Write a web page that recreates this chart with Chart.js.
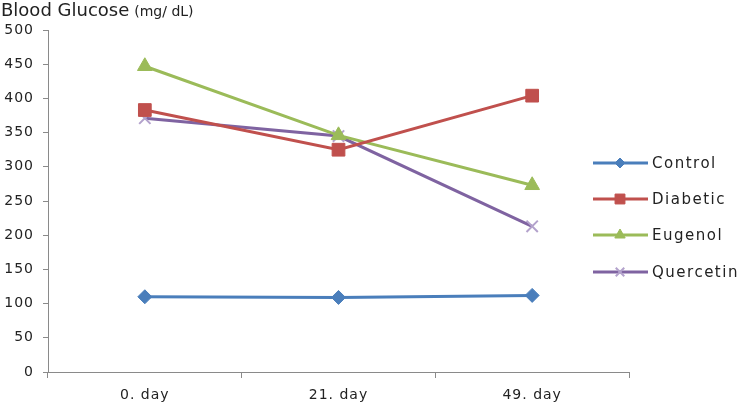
<!DOCTYPE html>
<html>
<head>
<meta charset="utf-8">
<script src="https://cdn.jsdelivr.net/npm/chart.js@4/dist/chart.umd.min.js"></script>
<style>
  html, body { margin: 0; padding: 0; background: #fff; }
  #wrap { width: 749px; height: 402px; position: relative; }
</style>
</head>
<body>
<div id="wrap"><canvas id="c" width="749" height="402"></canvas></div>
<script>
// --- データ ---
const days      = ['0. day', '21. day', '49. day'];
const control   = [110, 109, 112];
const diabetic  = [383, 325, 404];
const eugenol   = [447, 346, 273];
const quercetin = [371, 345, 213];

const FONT = '"DejaVu Sans", Verdana, sans-serif';
const axisColor = '#8a8a8a';

const mkSet = (label, data, color, pointStyle, radius, legendRadius, extra = {}) => ({
    label, data, legendRadius,
    borderColor: color,
    backgroundColor: color,
    borderWidth: 3,
    pointStyle,
    pointRadius: radius,
    pointBorderColor: color,
    pointBackgroundColor: color,
    pointBorderWidth: 1,
    tension: 0,
    ...extra
});

const datasets = [
    mkSet('Control',   control,   '#4a7ebb', 'rectRot',  7, 5),
    mkSet('Diabetic',  diabetic,  '#c0504d', 'rect',     9, 7),
    mkSet('Eugenol',   eugenol,   '#9bbb59', 'triangle', 8.5, 6),
    mkSet('Quercetin', quercetin, '#7f63a1', 'crossRot', 8, 6,
          { pointBorderColor: '#b3a2cc', pointBorderWidth: 2 })
];

// 文字間隔 (元画像は横に広い)
const spacingPlugin = {
    id: 'spacing',
    beforeDraw(chart) { chart.ctx.letterSpacing = '1px'; },
    afterDatasetsDraw(chart) { chart.ctx.letterSpacing = '0px'; }
};

// タイトル & 凡例 (独自描画)
const decorPlugin = {
    id: 'decor',
    afterDraw(chart) {
        const ctx = chart.ctx;
        ctx.save();
        ctx.letterSpacing = '0px';
        ctx.textBaseline = 'alphabetic';
        ctx.fillStyle = '#222';
        ctx.font = '18px ' + FONT;
        ctx.fillText('Blood Glucose', 1, 16);
        const w = ctx.measureText('Blood Glucose').width;
        ctx.font = '14px ' + FONT;
        ctx.fillText('(mg/ dL)', 1 + w + 5, 16);

        // 凡例
        const rows = [163, 199, 235, 272];
        chart.data.datasets.forEach((ds, i) => {
            const y = rows[i];
            ctx.strokeStyle = ds.borderColor;
            ctx.lineWidth = 3;
            ctx.beginPath();
            ctx.moveTo(593, y);
            ctx.lineTo(648, y);
            ctx.stroke();
            ctx.fillStyle = ds.pointBackgroundColor;
            ctx.strokeStyle = ds.pointBorderColor;
            ctx.lineWidth = ds.pointBorderWidth;
            Chart.helpers.drawPoint(ctx, {
                pointStyle: ds.pointStyle,
                radius: ds.legendRadius,
                rotation: 0,
                borderWidth: ds.pointBorderWidth
            }, 620, y);
            ctx.fillStyle = '#222';
            ctx.font = '15px ' + FONT;
            ctx.letterSpacing = '1.5px';
            ctx.textBaseline = 'middle';
            ctx.fillText(ds.label, 652, y + 1);
            ctx.letterSpacing = '0px';
        });
        ctx.restore();
    }
};

new Chart(document.getElementById('c').getContext('2d'), {
    type: 'line',
    data: { labels: days, datasets },
    plugins: [spacingPlugin, decorPlugin],
    options: {
        responsive: false,
        animation: false,
        layout: { padding: { top: 30, right: 120, left: 0, bottom: 0 } },
        plugins: {
            legend:  { display: false },
            tooltip: { enabled: false }
        },
        scales: {
            x: {
                offset: true,
                afterFit: s => { s.height = 30; },
                border: { display: true, color: axisColor, width: 1 },
                grid: {
                    offset: true,
                    drawOnChartArea: false,
                    drawTicks: true,
                    tickLength: 6,
                    color: axisColor
                },
                ticks: {
                    color: '#222',
                    padding: 9,
                    maxRotation: 0,
                    font: { family: FONT, size: 14 }
                }
            },
            y: {
                min: 0, max: 500,
                afterFit: s => { s.width = 48; },
                border: { display: true, color: axisColor, width: 1 },
                grid: {
                    drawOnChartArea: false,
                    drawTicks: true,
                    tickLength: 5,
                    color: axisColor
                },
                ticks: {
                    stepSize: 50,
                    color: '#222',
                    padding: 9,
                    font: { family: FONT, size: 14 }
                }
            }
        }
    }
});
</script>
</body>
</html>
